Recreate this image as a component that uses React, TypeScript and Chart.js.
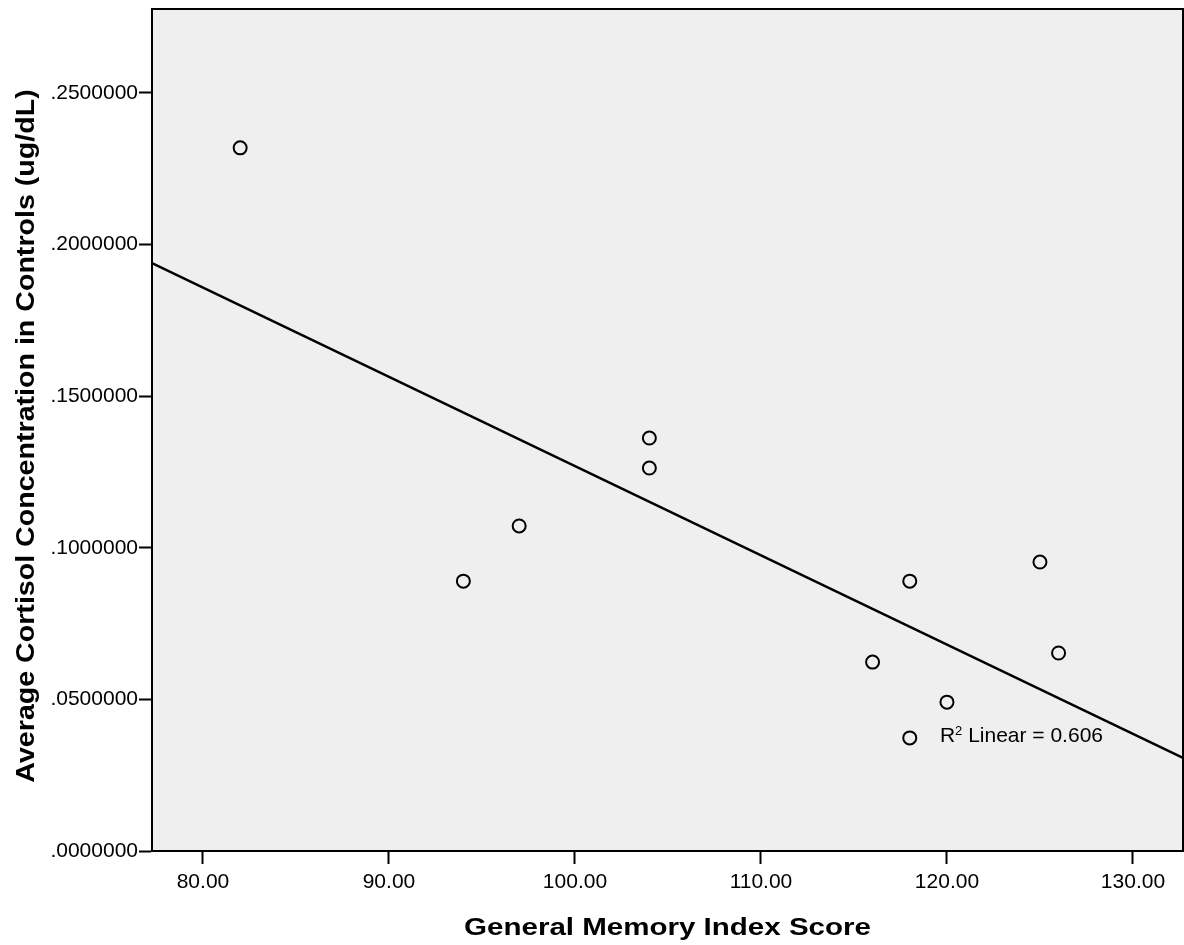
import React, { useEffect, useRef } from "react";
import { Chart, registerables } from "chart.js";

Chart.register(...registerables);

// Observations: memory index score vs. average cortisol (controls)
const memoryScores = [82, 94, 97, 104, 104, 116, 118, 118, 120, 125, 126];
const cortisolLevels = [0.2319, 0.089, 0.1072, 0.1362, 0.1263, 0.0623, 0.089, 0.0373, 0.0491, 0.0953, 0.0653];

// Linear fit drawn across the full x range
const fitX = [77.26, 132.69];
const fitY = [0.1939, 0.0307];

const xTickValues = [80, 90, 100, 110, 120, 130];
const yTickValues = [0, 0.05, 0.1, 0.15, 0.2, 0.25];

const xRange = [77.26, 132.69];
const yRange = [0, 0.2777];

const xTitle = "General Memory Index Score";
const yTitle = "Average Cortisol Concentration in Controls (ug/dL)";
const fitLabel = { x: 119.62, y: 0.036, r2: "0.606" };

const FONT = "'Liberation Sans', Arial, sans-serif";

const framePlugin = {
  id: "frame",
  beforeDraw(chart: any) {
    const { ctx, chartArea: a } = chart;
    ctx.save();
    ctx.fillStyle = "#efefef";
    ctx.fillRect(a.left, a.top, a.right - a.left, a.bottom - a.top);
    ctx.restore();
  },
  afterDatasetsDraw(chart: any) {
    const { ctx, chartArea: a, scales } = chart;
    ctx.save();
    ctx.strokeStyle = "#000";
    ctx.lineWidth = 2;
    ctx.strokeRect(a.left, a.top, a.right - a.left, a.bottom - a.top);

    // R² annotation
    const px = scales.x.getPixelForValue(fitLabel.x);
    const py = scales.y.getPixelForValue(fitLabel.y);
    ctx.fillStyle = "#000";
    ctx.textBaseline = "alphabetic";
    ctx.textAlign = "left";
    ctx.font = `21px ${FONT}`;
    ctx.fillText("R", px, py);
    let cx = px + ctx.measureText("R").width;
    ctx.font = `13px ${FONT}`;
    ctx.fillText("2", cx, py - 7);
    cx += ctx.measureText("2").width;
    ctx.font = `21px ${FONT}`;
    ctx.fillText(` Linear = ${fitLabel.r2}`, cx, py);

    // axis titles
    ctx.font = `bold 24px ${FONT}`;
    ctx.textAlign = "center";
    ctx.save();
    ctx.translate((a.left + a.right) / 2, 935);
    ctx.scale(1.23, 1);
    ctx.fillText(xTitle, 0, 0);
    ctx.restore();

    ctx.font = `bold 26px ${FONT}`;
    ctx.save();
    ctx.translate(34, 436);
    ctx.rotate(-Math.PI / 2);
    ctx.scale(1.1, 1);
    ctx.fillText(yTitle, 0, 0);
    ctx.restore();
    ctx.restore();
  },
};

export default function App() {
  const canvasRef = useRef<HTMLCanvasElement>(null);

  useEffect(() => {
    if (!canvasRef.current) return;
    const chart = new Chart(canvasRef.current, {
      type: "scatter",
      data: {
        datasets: [
          {
            type: "line",
            data: fitX.map((x, i) => ({ x, y: fitY[i] })),
            borderColor: "#000",
            borderWidth: 2.5,
            pointRadius: 0,
            fill: false,
          },
          {
            type: "scatter",
            data: memoryScores.map((x, i) => ({ x, y: cortisolLevels[i] })),
            pointRadius: 6.5,
            pointBorderWidth: 2,
            pointBorderColor: "#000",
            pointBackgroundColor: "rgba(0,0,0,0)",
          },
        ],
      },
      options: {
        animation: false,
        responsive: false,
        layout: { autoPadding: false, padding: { top: 9, right: 1, left: 0, bottom: 0 } },
        plugins: { legend: { display: false }, tooltip: { enabled: false } },
        scales: {
          x: {
            type: "linear",
            min: xRange[0],
            max: xRange[1],
            afterBuildTicks: (s: any) => {
              s.ticks = xTickValues.map((v) => ({ value: v }));
            },
            afterFit: (s: any) => {
              s.height = 94;
              s.paddingLeft = 0;
              s.paddingRight = 0;
            },
            grid: {
              drawOnChartArea: false,
              tickLength: 13,
              tickColor: "#000",
              tickWidth: 2,
            },
            border: { display: true, color: "#000", width: 2 },
            ticks: {
              padding: 6,
              color: "#000",
              font: { family: FONT, size: 21 },
              maxRotation: 0,
              callback: (v: any) => Number(v).toFixed(2),
            },
          },
          y: {
            type: "linear",
            min: yRange[0],
            max: yRange[1],
            afterBuildTicks: (s: any) => {
              s.ticks = yTickValues.map((v) => ({ value: v }));
            },
            afterFit: (s: any) => {
              s.width = 152;
              s.paddingTop = 0;
              s.paddingBottom = 0;
            },
            grid: {
              drawOnChartArea: false,
              tickLength: 13,
              tickColor: "#000",
              tickWidth: 2,
            },
            border: { display: true, color: "#000", width: 2 },
            ticks: {
              padding: 1,
              color: "#000",
              font: { family: FONT, size: 21 },
              callback: (v: any) => "." + Number(v).toFixed(7).split(".")[1],
            },
          },
        },
      },
      plugins: [framePlugin],
    });
    return () => chart.destroy();
  }, []);

  return (
    <div style={{ position: "absolute", left: 0, top: 0, width: 1184, height: 945, background: "#fff" }}>
      <canvas ref={canvasRef} width={1184} height={945} style={{ display: "block" }} />
    </div>
  );
}
